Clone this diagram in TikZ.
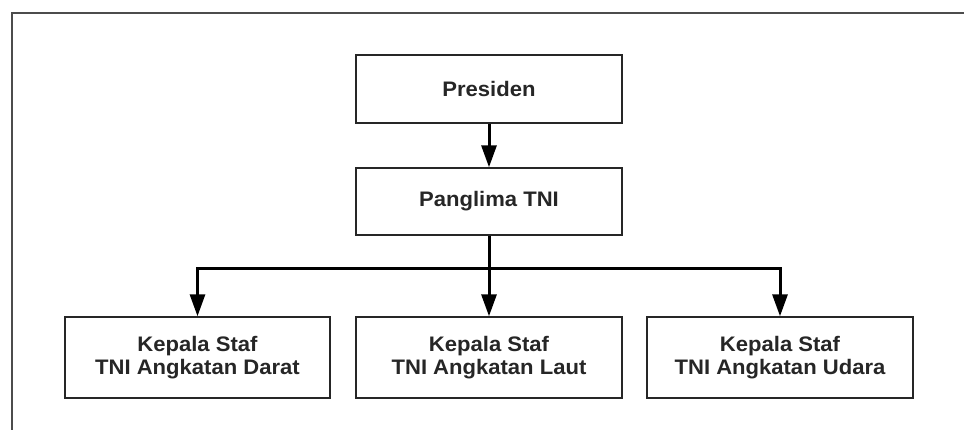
\documentclass[tikz,border=0pt]{standalone}
\usepackage{fontspec}
\setmainfont{Liberation Sans}[FakeStretch=1.05]
\usetikzlibrary{arrows.meta}
\begin{document}
\begin{tikzpicture}[x=1pt,y=-1pt,
  box/.style={draw=black!85, line width=1.4pt, fill=white, minimum width=266pt, inner sep=0pt,
    align=center, text=black!85, font=\bfseries\fontsize{21}{23.5}\selectfont},
  conn/.style={line width=3pt, black, line join=miter, -{Triangle[width=15pt,length=22pt]}},
  frame/.style={draw=black!70, line width=1.8pt}]
\useasboundingbox (0,0) rectangle (964,430);
\draw[frame] (964,13) -- (12,13) -- (12,430);
\node[box, minimum height=68pt] (pres) at (489,89) {Presiden};
\node[box, minimum height=67pt] (pang) at (489,201.5) {Panglima TNI};
\node[box, minimum height=81pt, minimum width=265pt] (kasad) at (197.5,357.5) {Kepala Staf\\TNI Angkatan Darat};
\node[box, minimum height=81pt] (kasal) at (489,357.5) {Kepala Staf\\TNI Angkatan Laut};
\node[box, minimum height=81pt] (kasau) at (780,357.5) {Kepala Staf\\TNI Angkatan Udara};
\coordinate (bus) at (489,269);
\draw[conn] (pres.south) -- (pang.north);
\draw[conn] (pang.south) -- (kasal.north);
\draw[conn] (bus) -| (kasad.north);
\draw[conn] (bus) -| (kasau.north);
\end{tikzpicture}
\end{document}
